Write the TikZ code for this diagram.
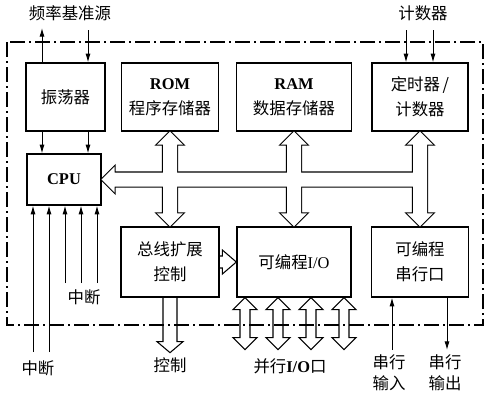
\documentclass[tikz,border=0pt]{standalone}
\usepackage{fontspec}
\setmainfont{Liberation Serif}
\newfontfamily\cjk{Noto Sans CJK SC}
\usetikzlibrary{calc,arrows.meta}

\newcommand{\lat}[1]{{\rmfamily\bfseries #1}}
\newcommand{\arrhw}{13}
\newcommand{\arrsw}{7}
\newcommand{\arrhl}{13}
% fat double arrow, top point #2, bottom point #3
\newcommand{\fatdbl}[3][]{%
  \path[#1] (#2) -- ($(#2)+(\arrhw,\arrhl)$) -- ($(#2)+(\arrsw,\arrhl)$) -- ($(#3)+(\arrsw,-\arrhl)$)
    -- ($(#3)+(\arrhw,-\arrhl)$) -- (#3) -- ($(#3)+(-\arrhw,-\arrhl)$) -- ($(#3)+(-\arrsw,-\arrhl)$)
    -- ($(#2)+(-\arrsw,\arrhl)$) -- ($(#2)+(-\arrhw,\arrhl)$) -- cycle;}
% the system bus, drawn twice (outline, then fill)
\newcommand{\buspath}[1]{%
  \fatdbl[#1]{rom.south}{ext.north}
  \fatdbl[#1]{ram.south}{pio.north}
  \fatdbl[#1]{timer.south}{sio.north}
  \path[#1] (cpu.east) -- ++(\arrhl,-\arrhw) -- ++(0,\arrhw-\arrsw)
    -- ($(timer.south |- cpu.east)+(0,-\arrsw)$) -- ($(timer.south |- cpu.east)+(0,\arrsw)$)
    -- ($(cpu.east)+(\arrhl,\arrsw)$) -- ++(0,\arrhw-\arrsw) -- cycle;}

\tikzset{
  blk/.style={draw, line width=1.1pt, align=center, inner sep=0pt,
    font=\cjk\fontsize{14}{21}\selectfont},
  lbl/.style={align=center, inner sep=1pt, font=\cjk\fontsize{14}{18}\selectfont},
  fat/.style={draw, line width=0.9pt, line join=miter},
  frame/.style={line width=0.9pt, dash pattern=on 4.5mm off 1.2mm on 0.6mm off 1.2mm},
  >={Latex[length=2.6mm,width=1.5mm]}
}

\begin{document}
\begin{tikzpicture}[x=0.3mm, y=-0.3mm]
\useasboundingbox (0,0) rectangle (490,403);

% Blocks
\node[blk, minimum width=23.7mm, minimum height=20.4mm] (osc) at (65.5,97) {振荡器};
\node[blk, minimum width=29.1mm, minimum height=20.4mm] (rom) at (170,97) {\lat{ROM}\\程序存储器};
\node[blk, minimum width=34.5mm, minimum height=20.4mm] (ram) at (294,97) {\lat{RAM}\\数据存储器};
\node[blk, minimum width=28.8mm, minimum height=20.4mm] (timer) at (420,97) {定时器\,/\\计数器};
\node[blk, minimum width=22.2mm, minimum height=15.3mm] (cpu) at (64,179.5) {\lat{CPU}};
\node[blk, minimum width=29.4mm, minimum height=21mm] (ext) at (170,262) {总线扩展\\控制};
\node[blk, minimum width=34.2mm, minimum height=21mm] (pio) at (294,262) {可编程{\rmfamily I/O}};
\node[blk, minimum width=29.1mm, minimum height=21mm] (sio) at (420,262) {可编程\\串行口};

% Bus
\buspath{draw, line width=1.8pt, line join=miter, fill=white}
\buspath{fill=white}

% Bus extension to I/O, control out
\draw[fat] ($(ext.east)+(0,-6)$) -- ($(pio.west)+(-14,-6)$) -- ++(0,-6) -- (pio.west)
  -- ($(pio.west)+(-14,12)$) -- ++(0,-6) -- ($(ext.east)+(0,6)$);
\coordinate (ctl) at ($(ext.south)+(0,55)$);
\draw[fat] ($(ext.south)+(-7,0)$) -- ($(ctl)+(-7,-11)$) -- ($(ctl)+(-13,-11)$) -- (ctl)
  -- ($(ctl)+(13,-11)$) -- ($(ctl)+(7,-11)$) -- ($(ext.south)+(7,0)$);

% Parallel ports
\begin{scope}
  \renewcommand{\arrhw}{12}\renewcommand{\arrsw}{5}\renewcommand{\arrhl}{12}
  \foreach \dx [count=\k] in {-49,-16,17,50} {
    \coordinate (pt\k) at ($(pio.south)+(\dx,0)$);
    \coordinate (pb\k) at ($(pio.south)+(\dx,52)$);
    \fatdbl[fat]{pt\k}{pb\k}
  }
\end{scope}

% Chip outline
\draw[frame] (7,42) rectangle (483,325);

% Clock
\coordinate (fout) at (42,28);
\coordinate (fin) at (88,30);
\draw[->, thick] (osc.north -| fout) -- (fout);
\draw[->, thick] (fin) -- (fin |- osc.north);
\draw[->, thick] (osc.south -| fout) -- (cpu.north -| fout);
\draw[->, thick] (osc.south -| fin) -- (cpu.north -| fin);

% Counter inputs
\coordinate (c1) at (406,30);
\coordinate (c2) at (433,30);
\draw[->, thick] (c1) -- (c1 |- timer.north);
\draw[->, thick] (c2) -- (c2 |- timer.north);

% Interrupts
\coordinate (i1) at (33,352);
\coordinate (i2) at (49,352);
\coordinate (i3) at (65,283);
\coordinate (i4) at (81,283);
\coordinate (i5) at (97,283);
\foreach \i in {i1,i2,i3,i4,i5}
  \draw[->, thick] (\i) -- (\i |- cpu.south);

% Serial lines
\coordinate (sin) at (392,350);
\coordinate (sout) at (447,350);
\draw[->, thick] (sin) -- (sin |- sio.south);
\draw[->, thick] (sout |- sio.south) -- (sout);

% Labels
\node[lbl] (fref) at (70,13) {频率基准源};
\node[lbl] (cntl) at (423,13) {计数器};
\node[lbl] (intl) at (38,368) {中断};
\node[lbl] (intu) at (84,297) {中断};
\node[lbl] (ctll) at (170,365) {控制};
\node[lbl] (pl) at (290,366) {并行\lat{I/O}口};
\node[lbl] (sil) at (389,373) {串行\\输入};
\node[lbl] (sol) at (445,373) {串行\\输出};
\end{tikzpicture}
\end{document}
